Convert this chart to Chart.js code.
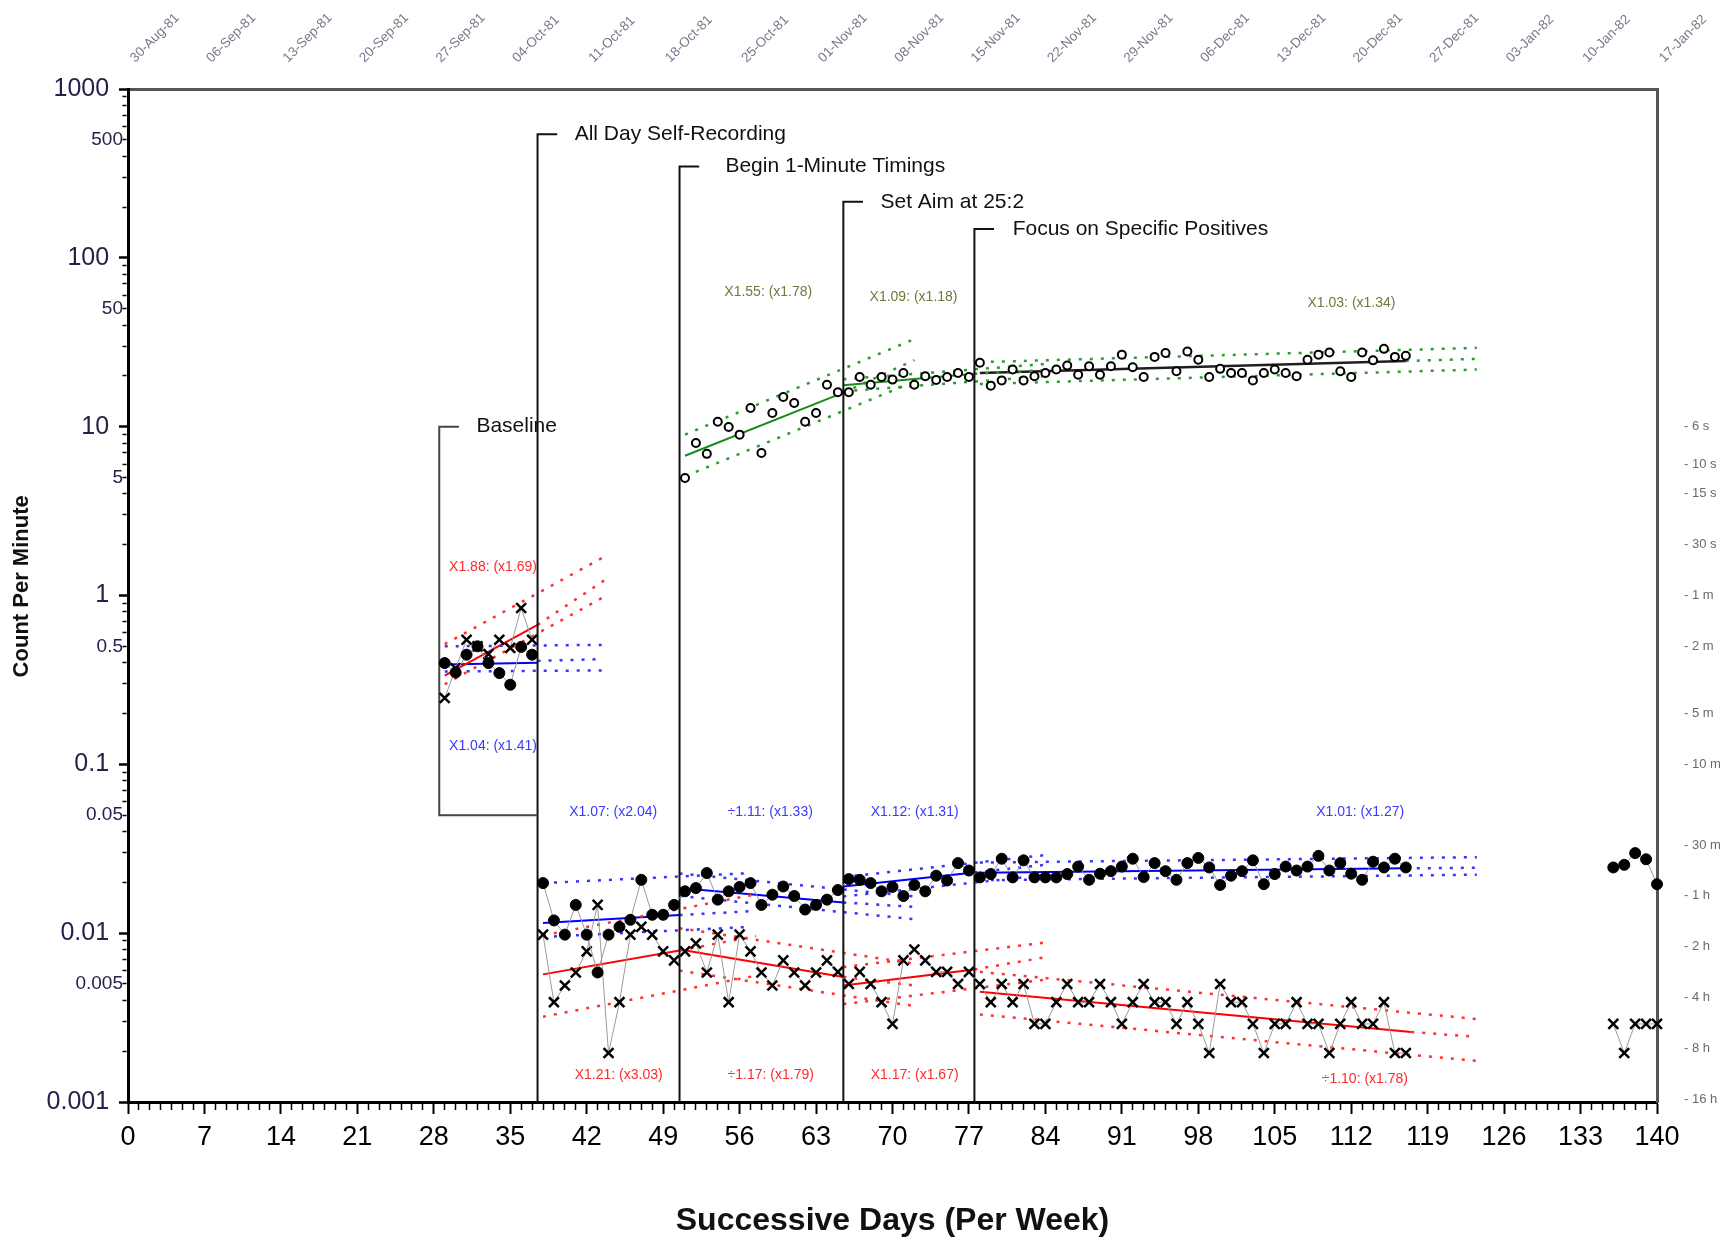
<!DOCTYPE html>
<html>
<head>
<meta charset="utf-8">
<title>Count Per Minute</title>
<script src="https://cdn.jsdelivr.net/npm/chart.js@4.4.1/dist/chart.umd.min.js"></script>
<style>
  body { margin: 0; background: #fff; }
  canvas { display: block; }
</style>
</head>
<body>
<canvas id="grafico" width="1730" height="1240"></canvas>
<script>
// Linha de base (dias 29 a 37)
const baseDias = [29, 30, 31, 32, 33, 34, 35, 36, 37];
const baseCertos = [0.398, 0.35, 0.446, 0.50, 0.398, 0.347, 0.296, 0.496, 0.446];
const baseErros = [0.247, 0.37, 0.547, 0.50, 0.45, 0.547, 0.489, 0.843, 0.547];

// Registro do dia todo: dias 38 a 117, um valor por dia
const inicioDia = 38;
const certos = [
  0.0198, 0.0119, 0.0098, 0.0147, 0.0098, 0.00585, 0.0098, 0.0109, 0.0120, 0.0207,
  0.01285, 0.01285, 0.0147, 0.0177, 0.0185, 0.0227, 0.0158, 0.0177, 0.0188, 0.0198,
  0.0147, 0.0169, 0.0189, 0.0166, 0.0138, 0.0147, 0.0158, 0.0180, 0.0209, 0.0207,
  0.0198, 0.0177, 0.0188, 0.0166, 0.0193, 0.0177, 0.0219, 0.0205, 0.0260, 0.0235,
  0.0214, 0.0224, 0.0276, 0.0214, 0.0270, 0.0214, 0.0214, 0.0214, 0.0224, 0.0248,
  0.0207, 0.0225, 0.0233, 0.0248, 0.0276, 0.0215, 0.0260, 0.0233, 0.0207, 0.0260,
  0.0279, 0.0245, 0.0193, 0.0219, 0.0233, 0.0270, 0.0195, 0.0224, 0.0248, 0.0235,
  0.0248, 0.0287, 0.0235, 0.0260, 0.0225, 0.0207, 0.0265, 0.0245, 0.0276, 0.0245
];
const erros = [
  0.0098, 0.0039, 0.0049, 0.00585, 0.0078, 0.0147, 0.00195, 0.0039, 0.0098, 0.0109,
  0.0098, 0.0078, 0.0069, 0.0078, 0.0087, 0.00585, 0.0098, 0.0039, 0.0098, 0.0078,
  0.00585, 0.0049, 0.0069, 0.00585, 0.0049, 0.00585, 0.0069, 0.0059, 0.0050, 0.0059,
  0.0050, 0.0039, 0.0029, 0.0069, 0.0080, 0.0069, 0.0059, 0.0059, 0.0050, 0.0059,
  0.0050, 0.0039, 0.0050, 0.0039, 0.0050, 0.0029, 0.0029, 0.0039, 0.0050, 0.0039,
  0.0039, 0.0050, 0.0039, 0.0029, 0.0039, 0.0050, 0.0039, 0.0039, 0.0029, 0.0039,
  0.0029, 0.00195, 0.0050, 0.0039, 0.0039, 0.0029, 0.00195, 0.0029, 0.0029, 0.0039,
  0.0029, 0.0029, 0.00195, 0.0029, 0.0039, 0.0029, 0.0029, 0.0039, 0.00195, 0.00195
];

// Últimos dias (136 a 140)
const fimDias = [136, 137, 138, 139, 140];
const fimCertos = [0.0245, 0.0254, 0.0298, 0.0274, 0.0195];
const fimErros = [0.0029, 0.00195, 0.0029, 0.0029, 0.0029];

// Cronometragens de 1 minuto: dias 51 a 117 (círculos abertos)
const inicioMinuto = 51;
const minuto = [
  4.97, 8.0, 6.9, 10.7, 9.96, 8.97, 12.9, 6.98, 12.05, 15.0,
  13.8, 10.7, 12.05, 17.7, 16.0, 16.0, 19.7, 17.7, 19.7, 19.0,
  20.8, 17.7, 19.9, 18.9, 19.7, 20.8, 19.7, 23.9, 17.5, 18.8,
  21.8, 18.8, 19.9, 20.8, 21.8, 23.0, 20.3, 22.8, 20.3, 22.8,
  26.7, 22.5, 19.7, 25.9, 27.3, 21.3, 27.9, 24.9, 19.7, 22.0,
  20.8, 20.8, 18.8, 20.8, 21.8, 20.8, 19.9, 24.9, 26.7, 27.5,
  21.3, 19.7, 27.5, 24.7, 28.9, 25.9, 26.3
];

// Retas de celeração: [dia inicial, valor, dia final, valor]
const retaVermelha = [[29, 0.335, 37.5, 0.67], [38, 0.0057, 50.5, 0.0079], [50.5, 0.0080, 65.5, 0.0055], [65.5, 0.0049, 77.5, 0.0061], [78, 0.0045, 117.5, 0.0026]];
const retaAzul = [[29, 0.39, 37.5, 0.40], [38, 0.0115, 50.5, 0.0128], [50.5, 0.0185, 65.5, 0.0152], [65.5, 0.0189, 77.5, 0.0229], [78, 0.0228, 117, 0.0242]];
const retaVerde = [[51, 6.73, 65.5, 15.9], [65.5, 17.6, 77.5, 20.6]];
const retaPreta = [[78, 20.8, 117, 24.5]];

const pontilhadoVermelho = [
  [29, 0.515, 43.7, 1.71], [37.5, 0.67, 43.7, 1.24], [29, 0.298, 43.7, 0.99],
  [38, 0.0097, 57.5, 0.0170], [50.5, 0.0079, 57.5, 0.0096], [38, 0.0032, 57.5, 0.0056],
  [50.5, 0.0107, 72, 0.0066], [65.5, 0.0055, 72, 0.0049], [50.5, 0.0060, 72, 0.0037],
  [65.5, 0.0063, 84, 0.0088], [77.5, 0.0061, 84, 0.0072], [65.5, 0.0038, 84, 0.0053],
  [78, 0.0059, 123.5, 0.0031], [117.5, 0.0026, 123.5, 0.00243], [78, 0.0033, 123.5, 0.00175]
];
const pontilhadoAzul = [
  [29, 0.50, 43.5, 0.51], [37.5, 0.41, 43.5, 0.42], [29, 0.355, 43.5, 0.36],
  [38, 0.0198, 57, 0.0227], [50.5, 0.0128, 57, 0.0135], [38, 0.0095, 57, 0.0109],
  [50.5, 0.0226, 72, 0.0165], [65.5, 0.0152, 72, 0.0143], [50.5, 0.0166, 72, 0.0121],
  [65.5, 0.0215, 84, 0.0290], [77.5, 0.0229, 84, 0.0254], [65.5, 0.0165, 84, 0.0221],
  [78, 0.0262, 123.5, 0.0282], [117, 0.0242, 123.5, 0.0244], [78, 0.0206, 123.5, 0.0222]
];
const pontilhadoVerde = [
  [51, 8.97, 72, 33.0], [65.5, 15.9, 72, 24.8], [52, 5.4, 72, 18.5],
  [65.5, 19.1, 84, 23.5], [77.5, 20.6, 84, 21.6], [65.5, 16.2, 84, 19.9],
  [78, 24.1, 123.5, 29.3], [117, 24.5, 123.5, 25.2], [78, 17.9, 123.5, 21.8]
];

// Mudanças de fase
const faseDias = [28.5, 37.5, 50.5, 65.5, 77.5];
const faseTopos = [10, 540, 348, 215, 148];
const faseFundos = [0.05, 0.001, 0.001, 0.001, 0.001];
const faseNomes = ['Baseline', 'All Day Self-Recording', 'Begin 1-Minute Timings', 'Set Aim at 25:2', 'Focus on Specific Positives'];
const faseTextoDia = [31.9, 40.9, 54.7, 68.9, 81.0];

// Textos de celeração
const celTextos = ['X1.88: (x1.69)', 'X1.04: (x1.41)', 'X1.07: (x2.04)', '÷1.11: (x1.33)', 'X1.12: (x1.31)', 'X1.01: (x1.27)',
  'X1.21: (x3.03)', '÷1.17: (x1.79)', 'X1.17: (x1.67)', '÷1.10: (x1.78)', 'X1.55: (x1.78)', 'X1.09: (x1.18)', 'X1.03: (x1.34)'];
const celDias = [29.4, 29.4, 40.4, 54.9, 68.0, 108.8, 40.9, 54.9, 68.0, 109.3, 54.6, 67.9, 108.0];
const celValores = [1.48, 0.129, 0.0524, 0.0524, 0.0518, 0.0518, 0.00144, 0.00144, 0.00144, 0.00137, 62.7, 58.2, 54.0];
const celCores = ['r', 'b', 'b', 'b', 'b', 'b', 'r', 'r', 'r', 'r', 'g', 'g', 'g'];

// Rótulos dos eixos
const xRotulos = [0, 7, 14, 21, 28, 35, 42, 49, 56, 63, 70, 77, 84, 91, 98, 105, 112, 119, 126, 133, 140];
const datas = ['30-Aug-81', '06-Sep-81', '13-Sep-81', '20-Sep-81', '27-Sep-81', '04-Oct-81', '11-Oct-81', '18-Oct-81',
  '25-Oct-81', '01-Nov-81', '08-Nov-81', '15-Nov-81', '22-Nov-81', '29-Nov-81', '06-Dec-81', '13-Dec-81',
  '20-Dec-81', '27-Dec-81', '03-Jan-82', '10-Jan-82', '17-Jan-82'];
const yRotulos = [1000, 500, 100, 50, 10, 5, 1, 0.5, 0.1, 0.05, 0.01, 0.005, 0.001];
const direitaValores = [10, 6, 4, 2, 1, 0.5, 0.2, 0.1, 0.0333, 0.01667, 0.00833, 0.00417, 0.00208, 0.00104];
const direitaRotulos = ['- 6 s', '- 10 s', '- 15 s', '- 30 s', '- 1 m', '- 2 m', '- 5 m', '- 10 m', '- 30 m', '- 1 h', '- 2 h', '- 4 h', '- 8 h', '- 16 h'];

const fonte = '"Liberation Sans", Arial, sans-serif';
const cores = { r: '#ff2a2a', b: '#3a3aff', g: '#6f7a3c' };

function pontos(dias, valores) {
  return valores.map((v, i) => ({ x: dias[i], y: v }));
}
function seguidos(inicio, valores) {
  return valores.map((v, i) => ({ x: inicio + i, y: v }));
}
function segmento(s) {
  return [{ x: s[0], y: s[1] }, { x: s[2], y: s[3] }];
}
function ehDecada(v) {
  const l = Math.log10(v);
  return Math.abs(l - Math.round(l)) < 1e-6;
}

const datasets = [];

// pontos com linha cinza fina
function serie(dados, estilo) {
  datasets.push({
    data: dados, showLine: estilo.linha, borderColor: '#9a9a9a', borderWidth: 1,
    pointStyle: estilo.forma, pointRadius: estilo.raio, pointBorderWidth: estilo.borda,
    pointBackgroundColor: estilo.fundo, pointBorderColor: '#000', order: 0, clip: 12
  });
}
const bola = { linha: true, forma: 'circle', raio: 5.5, borda: 1, fundo: '#000' };
const xis = { linha: true, forma: 'crossRot', raio: 7, borda: 2.5, fundo: '#000' };
const aberto = { linha: false, forma: 'circle', raio: 4, borda: 2, fundo: '#fff' };

// retas
function retas(lista, cor, largura, tracejado) {
  lista.forEach(s => datasets.push({
    data: segmento(s), showLine: true, borderColor: cor, borderWidth: largura,
    borderDash: tracejado, pointRadius: 0, order: 5
  }));
}
retas(pontilhadoVermelho, '#ff3030', 2.5, [3, 8]);
retas(pontilhadoAzul, '#3535ff', 2.5, [3, 8]);
retas(pontilhadoVerde, '#2f9a2f', 2.5, [3, 8]);
retas(retaVermelha, '#ff0000', 2, []);
retas(retaAzul, '#0000ff', 2, []);
retas(retaVerde, '#1a8a1a', 2, []);
retas(retaPreta, '#1e1e1e', 2.5, []);

// colchetes das fases
faseDias.forEach((d, i) => {
  const dados = [{ x: d + 1.8, y: faseTopos[i] }, { x: d, y: faseTopos[i] }, { x: d, y: faseFundos[i] }];
  if (faseFundos[i] > 0.001) dados.push({ x: faseDias[i + 1], y: faseFundos[i] });
  datasets.push({
    data: dados, showLine: true, borderColor: i === 0 ? '#444' : '#111', borderWidth: 2,
    pointRadius: 0, order: 4
  });
});

serie(pontos(baseDias, baseCertos), bola);
serie(pontos(baseDias, baseErros), xis);
serie(seguidos(inicioDia, certos), bola);
serie(seguidos(inicioDia, erros), xis);
serie(pontos(fimDias, fimCertos), bola);
serie(pontos(fimDias, fimErros), xis);
serie(seguidos(inicioMinuto, minuto), aberto);

// textos das fases e das celerações
const textos = {
  id: 'textos',
  afterDatasetsDraw(chart) {
    const { ctx, scales: { x, y } } = chart;
    ctx.save();
    ctx.textAlign = 'left';
    ctx.textBaseline = 'middle';
    ctx.fillStyle = '#111';
    ctx.font = '21px ' + fonte;
    faseNomes.forEach((nome, i) => {
      ctx.fillText(nome, x.getPixelForValue(faseTextoDia[i]), y.getPixelForValue(faseTopos[i]));
    });
    ctx.font = '14px ' + fonte;
    celTextos.forEach((t, i) => {
      ctx.fillStyle = cores[celCores[i]];
      ctx.fillText(t, x.getPixelForValue(celDias[i]), y.getPixelForValue(celValores[i]));
    });
    ctx.restore();
  }
};

const yMarcas = [];
for (let e = -3; e <= 2; e++) {
  for (let s = 1; s <= 9; s++) yMarcas.push(Number((s * Math.pow(10, e)).toPrecision(2)));
}
yMarcas.push(1000);

function rotuloY(v) {
  const r = yRotulos.find(t => Math.abs(Math.log10(t) - Math.log10(v)) < 1e-6);
  if (r === undefined) return '';
  return ehDecada(r) ? r + '  ' : String(r);
}

new Chart(document.getElementById('grafico'), {
  type: 'scatter',
  data: { datasets: datasets },
  plugins: [textos],
  options: {
    responsive: false,
    animation: false,
    devicePixelRatio: 1,
    events: [],
    layout: { padding: 0 },
    plugins: { legend: { display: false }, tooltip: { enabled: false } },
    scales: {
      x: {
        type: 'linear', position: 'bottom', min: 0, max: 140,
        afterBuildTicks: s => { s.ticks = []; for (let d = 0; d <= 140; d++) s.ticks.push({ value: d }); },
        afterFit: s => { s.height = 138; },
        ticks: {
          autoSkip: false, maxRotation: 0, padding: 7, color: '#000',
          font: { family: fonte, size: 27 },
          callback: v => xRotulos.includes(v) ? String(v) : ''
        },
        grid: {
          display: true, drawOnChartArea: false, drawTicks: true, tickLength: 12, tickColor: '#000',
          tickWidth: c => xRotulos.includes(c.tick.value) ? 2 : 1.5,
          tickBorderDash: c => xRotulos.includes(c.tick.value) ? [] : [6, 40]
        },
        border: { display: true, color: '#000', width: 3 },
        title: {
          display: true, text: 'Successive Days (Per Week)', color: '#111',
          font: { family: fonte, size: 32, weight: 'bold' }, padding: { top: 0, bottom: 0 }
        }
      },
      x2: {
        type: 'linear', position: 'top', min: 0, max: 140,
        afterBuildTicks: s => { s.ticks = xRotulos.map(v => ({ value: v })); },
        afterFit: s => { s.height = 89; },
        ticks: {
          autoSkip: false, minRotation: 45, maxRotation: 45, padding: 15, labelOffset: 16, color: '#767a8a',
          font: { family: fonte, size: 13.5 },
          callback: (v, i) => datas[i]
        },
        grid: { display: false },
        border: { display: true, color: '#555', width: 3 }
      },
      y: {
        type: 'logarithmic', position: 'left', min: 0.001, max: 1000,
        afterBuildTicks: s => { s.ticks = yMarcas.map(v => ({ value: v })); },
        afterFit: s => { s.width = 128; },
        ticks: {
          autoSkip: false, padding: -4, color: '#23234a',
          font: c => ({ family: fonte, size: c.tick && ehDecada(c.tick.value) ? 25 : 19 }),
          callback: v => rotuloY(v)
        },
        grid: {
          display: true, drawOnChartArea: false, drawTicks: true, tickLength: 9, tickColor: '#000',
          tickWidth: c => ehDecada(c.tick.value) ? 2.5 : 1.5,
          tickBorderDash: c => ehDecada(c.tick.value) ? [] : [0, 3.5, 4, 40]
        },
        border: { display: true, color: '#000', width: 3 },
        title: {
          display: true, text: '   Count Per Minute', color: '#111',
          font: { family: fonte, size: 22, weight: 'bold' }, padding: { top: 9, bottom: 0 }
        }
      },
      y2: {
        type: 'logarithmic', position: 'right', min: 0.001, max: 1000,
        afterBuildTicks: s => { s.ticks = direitaValores.map(v => ({ value: v })); },
        afterFit: s => { s.width = 73; },
        ticks: {
          autoSkip: false, padding: 19, color: '#6a6a6a',
          font: { family: fonte, size: 13 },
          callback: (v, i) => direitaRotulos[i]
        },
        grid: { display: false },
        border: { display: true, color: '#555', width: 3 }
      }
    }
  }
});
</script>
</body>
</html>
